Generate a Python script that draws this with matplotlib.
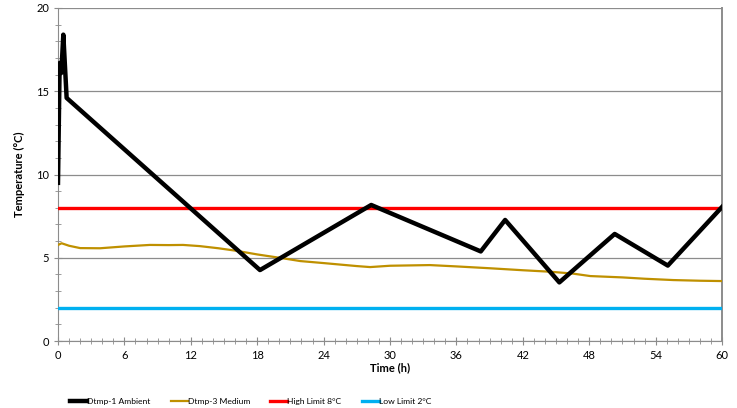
import matplotlib
matplotlib.use("Agg")
import matplotlib.pyplot as plt
from matplotlib.ticker import MultipleLocator

# ── Data ─────────────────────────────────────────────────────────────────────
ambient_t = [0.0, 0.15, 0.3, 0.48, 0.78, 18.25, 28.3, 38.2, 40.4, 45.3, 50.3, 55.1, 60.0]
ambient_T = [9.5, 16.7, 16.1, 18.4, 14.6, 4.26, 8.17, 5.38, 7.27, 3.52, 6.43, 4.53, 8.05]

medium_t = [0.0, 0.33, 1.0, 2.0, 3.8, 6.0, 8.3, 10.0, 11.3, 12.8, 14.5, 16.1, 18.0,
            20.3, 21.9, 24.0, 27.0, 28.2, 30.0, 33.6, 36.0, 39.0, 42.0, 44.5,
            46.5, 48.1, 51.0, 53.0, 55.6, 58.0, 60.0]
medium_T = [5.77, 5.87, 5.72, 5.58, 5.57, 5.68, 5.77, 5.76, 5.77, 5.7, 5.57, 5.42, 5.2,
            4.97, 4.8, 4.68, 4.5, 4.44, 4.52, 4.56, 4.48, 4.37, 4.25, 4.16,
            4.05, 3.9, 3.82, 3.74, 3.66, 3.62, 3.6]

high_limit = 8
low_limit = 2

BLACK = "#000000"
GOLD = "#BF9000"
RED = "#FF0000"
BLUE = "#00B0F0"
GRID = "#8C8C8C"

plt.rcParams["font.family"] = ["Lato", "DejaVu Sans"]

fig = plt.figure(figsize=(7.37, 4.08), dpi=100)
ax = fig.add_axes([0.0787, 0.1642, 0.901, 0.8162])

ax.plot(ambient_t, ambient_T, color=BLACK, lw=3.2, solid_joinstyle="round",
        label="Dtmp-1 Ambient", zorder=4)
ax.plot(medium_t, medium_T, color=GOLD, lw=1.6, label="Dtmp-3 Medium", zorder=3)
ax.axhline(high_limit, color=RED, lw=2.4, label="High Limit 8°C", zorder=3)
ax.axhline(low_limit, color=BLUE, lw=2.4, label="Low Limit 2°C", zorder=3)

ax.set_xlim(0, 60)
ax.set_ylim(0, 20)
ax.xaxis.set_major_locator(MultipleLocator(6))
ax.xaxis.set_minor_locator(MultipleLocator(1))
ax.yaxis.set_major_locator(MultipleLocator(5))
ax.yaxis.set_minor_locator(MultipleLocator(1))
ax.grid(axis="y", which="major", color=GRID, lw=0.9)
ax.set_axisbelow(True)

for side in ["left", "bottom", "right"]:
    ax.spines[side].set_color(GRID)
ax.spines["right"].set_linewidth(1.4)
ax.spines["top"].set_visible(False)

ax.tick_params(which="both", direction="inout", color=GRID, labelsize=8)
ax.tick_params(which="major", length=6)
ax.tick_params(which="minor", length=5)
ax.tick_params(axis="y", which="both", right=False)

ax.set_xlabel("Time (h)", fontsize=8, fontweight="bold", labelpad=1)
ax.set_ylabel("Temperature (°C)", fontsize=8, fontweight="bold", labelpad=8)

fig.legend(loc="lower center", bbox_to_anchor=(0.34, -0.012), ncol=4, frameon=False,
           fontsize=6.1, handlelength=2.0, handletextpad=0.0, columnspacing=2.4)

fig.savefig("out.png", dpi=100)
